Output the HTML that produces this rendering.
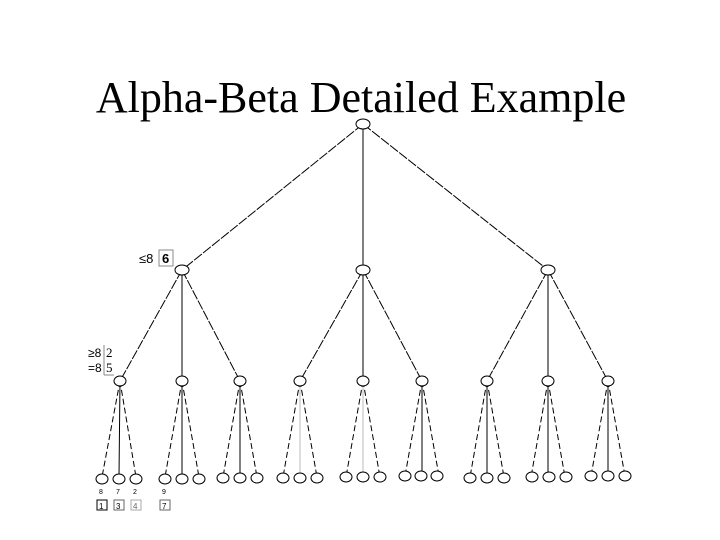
<!DOCTYPE html>
<html><head><style>
body{margin:0;background:#fff;}
svg{display:block;}
</style></head><body>
<svg width="720" height="540" xmlns="http://www.w3.org/2000/svg">
<text x="361" y="112" text-anchor="middle" font-family="Liberation Serif, serif" font-size="44">Alpha-Beta Detailed Example</text>
<g stroke="#000" stroke-width="1" fill="none" stroke-dasharray="10,1.5">
<line x1="363" y1="124" x2="182" y2="270"/>
<line x1="363" y1="124" x2="548" y2="270"/>
<line x1="182" y1="270" x2="120" y2="381"/><line x1="182" y1="270" x2="240" y2="381"/>
<line x1="363" y1="270" x2="300" y2="381"/><line x1="363" y1="270" x2="422" y2="381"/>
<line x1="548" y1="270" x2="487" y2="381"/><line x1="548" y1="270" x2="608" y2="381"/>
</g>
<g stroke="#000" stroke-width="1" fill="none">
<line x1="363" y1="124" x2="363" y2="270"/>
<line x1="182" y1="270" x2="182" y2="381"/>
<line x1="363" y1="270" x2="363" y2="381"/>
<line x1="548" y1="270" x2="548" y2="381"/>
</g>
<g stroke="#000" stroke-width="1" fill="none" stroke-dasharray="6,3">
<line x1="120" y1="381" x2="102" y2="477"/><line x1="120" y1="381" x2="136" y2="477"/>
<line x1="182" y1="381" x2="165" y2="477"/><line x1="182" y1="381" x2="199" y2="477"/>
<line x1="240" y1="381" x2="223" y2="477"/><line x1="240" y1="381" x2="257" y2="477"/>
<line x1="300" y1="381" x2="283" y2="477"/><line x1="300" y1="381" x2="317" y2="477"/>
<line x1="363" y1="381" x2="346" y2="477"/><line x1="363" y1="381" x2="380" y2="477"/>
<line x1="422" y1="381" x2="405" y2="476"/><line x1="422" y1="381" x2="439" y2="476"/>
<line x1="487" y1="381" x2="470" y2="477"/><line x1="487" y1="381" x2="504" y2="477"/>
<line x1="548" y1="381" x2="531" y2="477"/><line x1="548" y1="381" x2="565" y2="477"/>
<line x1="608" y1="381" x2="591" y2="476"/><line x1="608" y1="381" x2="625" y2="476"/>
</g>
<g stroke="#000" stroke-width="1">
<line x1="120" y1="381" x2="119" y2="477"/><line x1="182" y1="381" x2="182" y2="477"/><line x1="240" y1="381" x2="240" y2="477"/>
<line x1="422" y1="381" x2="422" y2="476"/>
<line x1="487" y1="381" x2="487" y2="477"/><line x1="548" y1="381" x2="548" y2="477"/><line x1="608" y1="381" x2="608" y2="476"/>
</g>
<line x1="300" y1="381" x2="300" y2="477" stroke="#bbb"/>
<line x1="363" y1="381" x2="363" y2="477" stroke="#bbb"/>
<g stroke="#000" stroke-width="1" fill="#fff">
<ellipse cx="363" cy="124" rx="7" ry="5"/>
<ellipse cx="182" cy="270" rx="7" ry="5"/><ellipse cx="363" cy="270" rx="7" ry="5"/><ellipse cx="548" cy="270" rx="7" ry="5"/>
<ellipse cx="120" cy="381" rx="6" ry="5"/><ellipse cx="182" cy="381" rx="6" ry="5"/><ellipse cx="240" cy="381" rx="6" ry="5"/>
<ellipse cx="300" cy="381" rx="6" ry="5"/><ellipse cx="363" cy="381" rx="6" ry="5"/><ellipse cx="422" cy="381" rx="6" ry="5"/>
<ellipse cx="487" cy="381" rx="6" ry="5"/><ellipse cx="548" cy="381" rx="6" ry="5"/><ellipse cx="608" cy="381" rx="6" ry="5"/>
<ellipse cx="102" cy="479" rx="6" ry="5"/><ellipse cx="119" cy="479" rx="6" ry="5"/><ellipse cx="136" cy="479" rx="6" ry="5"/>
<ellipse cx="165" cy="479" rx="6" ry="5"/><ellipse cx="182" cy="479" rx="6" ry="5"/><ellipse cx="199" cy="479" rx="6" ry="5"/>
<ellipse cx="223" cy="478" rx="6" ry="5"/><ellipse cx="240" cy="478" rx="6" ry="5"/><ellipse cx="257" cy="478" rx="6" ry="5"/>
<ellipse cx="283" cy="478" rx="6" ry="5"/><ellipse cx="300" cy="478" rx="6" ry="5"/><ellipse cx="317" cy="478" rx="6" ry="5"/>
<ellipse cx="346" cy="477" rx="6" ry="5"/><ellipse cx="363" cy="477" rx="6" ry="5"/><ellipse cx="380" cy="477" rx="6" ry="5"/>
<ellipse cx="405" cy="476" rx="6" ry="5"/><ellipse cx="421" cy="476" rx="6" ry="5"/><ellipse cx="437" cy="476" rx="6" ry="5"/>
<ellipse cx="470" cy="478" rx="6" ry="5"/><ellipse cx="487" cy="478" rx="6" ry="5"/><ellipse cx="504" cy="478" rx="6" ry="5"/>
<ellipse cx="532" cy="477" rx="6" ry="5"/><ellipse cx="549" cy="477" rx="6" ry="5"/><ellipse cx="566" cy="477" rx="6" ry="5"/>
<ellipse cx="591" cy="476" rx="6" ry="5"/><ellipse cx="608" cy="476" rx="6" ry="5"/><ellipse cx="625" cy="476" rx="6" ry="5"/>
</g>
<g font-family="Liberation Sans, sans-serif" fill="#000">
<text x="139" y="263" font-size="13">≤8</text>
<rect x="159" y="250" width="14" height="16" fill="none" stroke="#888"/>
<text x="162" y="263" font-size="13" font-weight="bold">6</text>
<text x="88" y="357" font-size="12">≥8</text>
<text x="88" y="372" font-size="12">=8</text>
<line x1="104" y1="345" x2="104" y2="375" stroke="#888"/>
<line x1="104" y1="375" x2="114" y2="375" stroke="#888"/>
<text x="106" y="357" font-size="13" font-family="Liberation Serif, serif">2</text>
<text x="106" y="372" font-size="13" font-family="Liberation Serif, serif">5</text>
<text x="99" y="494" font-size="7">8</text><text x="116" y="494" font-size="7">7</text><text x="133" y="494" font-size="7">2</text><text x="162" y="494" font-size="7">9</text>
</g>
<g font-family="Liberation Sans, sans-serif" font-size="8" stroke-width="1">
<rect x="97" y="500" width="10" height="10" fill="none" stroke="#000"/><text x="99" y="509">1</text>
<rect x="114" y="500" width="10" height="10" fill="none" stroke="#666"/><text x="116" y="509">3</text>
<rect x="131" y="500" width="10" height="10" fill="none" stroke="#aaa"/><text x="133" y="509" fill="#666">4</text>
<rect x="160" y="500" width="10" height="10" fill="none" stroke="#666"/><text x="162" y="509">7</text>
</g>
</svg>
</body></html>
